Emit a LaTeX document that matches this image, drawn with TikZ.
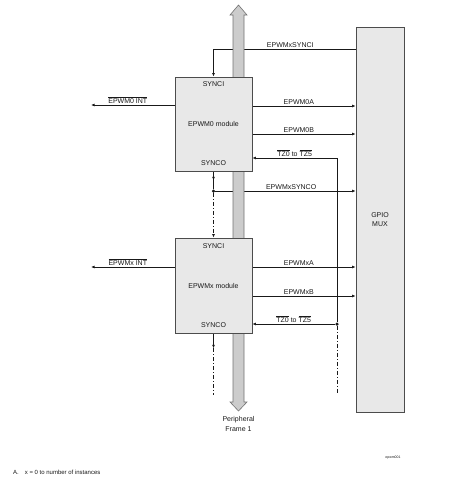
\documentclass[tikz,border=0pt]{standalone}
\usepackage{fontspec}
\setmainfont{Liberation Sans}
\usetikzlibrary{positioning, arrows.meta}
\pgfdeclarelayer{wires}
\pgfdeclarelayer{buslayer}
\pgfsetlayers{wires,buslayer,main}

\begin{document}
\begin{tikzpicture}[x=1pt, y=-1pt,
  every node/.style={font=\fontsize{7}{9}\selectfont, text=black!90, align=center, inner sep=1pt},
  module/.style={draw=black!70, fill=black!9, minimum width=77pt, minimum height=94pt, line width=0.7pt},
  bus/.style={draw=black!55, fill=black!20, line width=0.6pt},
  wire/.style={line width=0.65pt, draw=black!90},
  sig/.style={wire, -{Latex[length=3.5pt, width=2.8pt]}},
  dashdot/.style={wire, dash pattern=on 4pt off 2pt on 1pt off 2pt},
  junction/.style={circle, fill=black!90, inner sep=0pt, minimum size=3.5pt}
]
  \useasboundingbox (0,0) rectangle (468,480);

  % blocks
  \node[module] (pwm0) at (213.5,124) {EPWM0 module};
  \node[below=4pt of pwm0.north] (pwm0si) {SYNCI};
  \node[above=4.5pt of pwm0.south] (pwm0so) {SYNCO};

  \node[module, minimum height=95pt] (pwmx) at (213.5,285.5) {EPWMx module};
  \node[below=5pt of pwmx.north] (pwmxsi) {SYNCI};
  \node[above=5pt of pwmx.south] (pwmxso) {SYNCO};

  \node[module, minimum width=48pt, minimum height=385pt] (gpio) at (380,219.5) {GPIO\\MUX};

  % junctions and free ends
  \node[junction] (syncj) at (213.5,191) {};
  \node[junction] (tzj) at (337,324) {};
  \coordinate (tz0) at (337,158);
  \coordinate (tzend) at (337,393);
  \coordinate (soend) at (213.5,395);

  % peripheral frame bus
  \begin{pgfonlayer}{buslayer}
    \draw[bus] (233,15) -- (230,15) -- (238.5,5) -- (247,15) -- (244,15)
      -- (244,402) -- (247,402) -- (238.5,411) -- (230,402) -- (233,402) -- cycle;
  \end{pgfonlayer}
  \node (frame) at (238.5,424) [font=\fontsize{7}{10}\selectfont] {Peripheral\\Frame 1};

  \begin{pgfonlayer}{wires}
    % sync chain
    \draw[sig] (gpio.west |- 0,49) -| node[pos=0.23, above] {EPWMxSYNCI} (pwm0.north);
    \draw[wire] (pwm0.south) -- (syncj);
    \draw[sig] (pwm0.south) -- ++(0,9);
    \draw[sig] (syncj) -- node[pos=0.54, above] {EPWMxSYNCO} (gpio.west |- syncj);
    \draw[dashdot, -{Latex[length=3.5pt, width=2.8pt]}] (syncj) -- (pwmx.north);
    \draw[sig] (pwmx.south) -- ++(0,15);
    \draw[dashdot] (soend |- 0,348) -- (soend);

    % interrupts
    \draw[sig] (pwm0.west |- 0,105) -- node[pos=0.56, above] {$\overline{\hbox{EPWM0 INT}}$} (91,105);
    \draw[sig] (pwmx.west |- 0,267) -- node[pos=0.56, above] {$\overline{\hbox{EPWMx INT}}$} (91,267);

    % pwm outputs
    \draw[sig] (pwm0.east |- 0,106) -- node[pos=0.45, above] {EPWM0A} (gpio.west |- 0,106);
    \draw[sig] (pwm0.east |- 0,134) -- node[pos=0.45, above] {EPWM0B} (gpio.west |- 0,134);
    \draw[sig] (pwmx.east |- 0,267) -- node[pos=0.45, above] {EPWMxA} (gpio.west |- 0,267);
    \draw[sig] (pwmx.east |- 0,296) -- node[pos=0.45, above] {EPWMxB} (gpio.west |- 0,296);

    % trip zones
    \draw[wire] (tz0) -- (tzj);
    \draw[dashdot] (tzj) -- (tzend);
    \draw[sig] (tz0) -- node[above] {$\overline{\hbox{TZ0}}$ to $\overline{\hbox{TZ5}}$} (pwm0.east |- tz0);
    \draw[sig] (tzj) -- node[above] {$\overline{\hbox{TZ0}}$ to $\overline{\hbox{TZ5}}$} (pwmx.east |- tzj);
  \end{pgfonlayer}

  % notes
  \node[font=\fontsize{3.5}{4}\selectfont] (figid) at (393,458) {epwm001};
  \node[anchor=west, font=\fontsize{6}{7}\selectfont] (note) at (12,472) {A.\hspace{6pt}x = 0 to number of instances};
\end{tikzpicture}
\end{document}
